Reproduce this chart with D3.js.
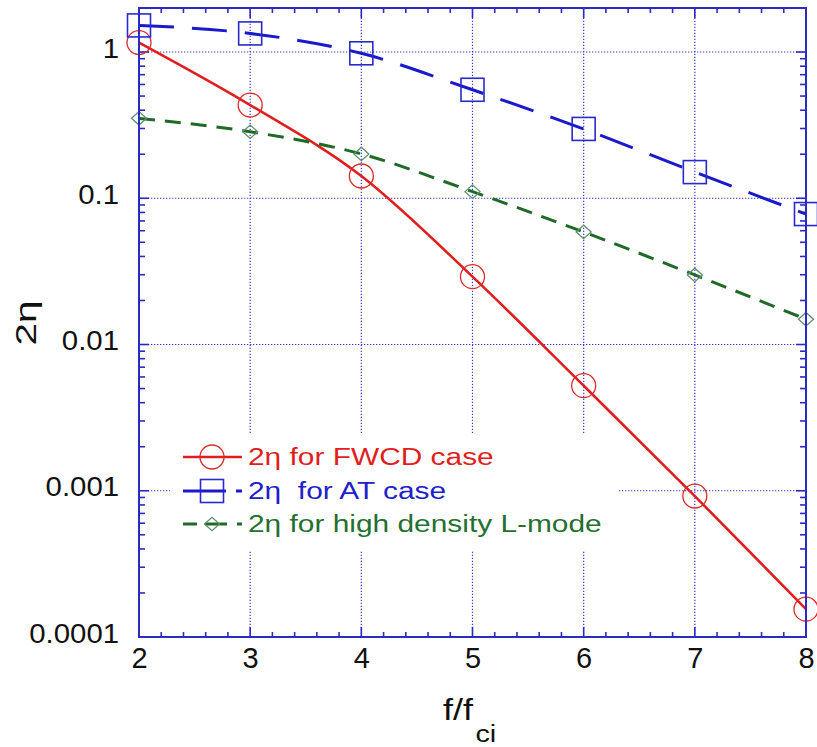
<!DOCTYPE html>
<html>
<head>
<meta charset="utf-8">
<script src="https://cdn.jsdelivr.net/npm/d3@7"></script>
<style>
  html, body { margin: 0; padding: 0; background: #fff; }
  svg { display: block; font-family: "Liberation Sans", Arial, Helvetica, sans-serif; }
  text { white-space: pre; }
</style>
</head>
<body>
<svg id="chart" width="817" height="747"></svg>
<script>
// Harmonic number f/f_ci on the x axis
const harmonics = [2, 3, 4, 5, 6, 7, 8];
// Two-pass absorption 2η for each scenario
const etaFWCD  = [1.16, 0.434, 0.142, 0.0291, 0.00523, 0.00092, 0.000155];
const etaAT    = [1.52, 1.34, 0.98, 0.552, 0.298, 0.151, 0.078];
const etaLmode = [0.352, 0.285, 0.201, 0.111, 0.0588, 0.0299, 0.0149];

const xTickValues = [2, 3, 4, 5, 6, 7, 8];
const yTickValues = [0.0001, 0.001, 0.01, 0.1, 1];
const yTickLabels = ["0.0001", "0.001", "0.01", "0.1", "1"];
const legendLabels = ["2η for FWCD case", "2η  for AT case", "2η for high density L-mode"];

const W = 817, H = 747;
const margin = { top: 8, right: 11, bottom: 110, left: 139 };
const x0 = margin.left, x1 = W - margin.right;
const y0 = margin.top, y1 = H - margin.bottom;

const axisColor = "#2b2bc4";
const gridColor = "#3838d8";

const svg = d3.select("#chart");

const x = d3.scaleLinear().domain([2, 8]).range([x0, x1]);
const y = d3.scaleLog().domain([0.0001, 2]).range([y1, y0]);

// Dotted grid at the major ticks
const grid = svg.append("g").attr("stroke", gridColor).attr("stroke-width", 1.2)
  .attr("stroke-dasharray", "1.3,1.7").attr("fill", "none");
xTickValues.slice(1, -1).forEach(v => {
  grid.append("line").attr("x1", x(v)).attr("x2", x(v)).attr("y1", y1).attr("y2", y0);
});
yTickValues.slice(1).forEach(v => {
  grid.append("line").attr("x1", x0).attr("x2", x1).attr("y1", y(v)).attr("y2", y(v));
});

// Minor and major ticks pointing inward on all four sides
const ticks = svg.append("g").attr("stroke", axisColor).attr("stroke-width", 1.6);
const xMinor = d3.range(2, 8.0001, 0.2).map(v => +v.toFixed(1));
xMinor.forEach(v => {
  const major = Math.abs(v - Math.round(v)) < 1e-6;
  const len = major ? 10 : 5;
  ticks.append("line").attr("x1", x(v)).attr("x2", x(v)).attr("y1", y1).attr("y2", y1 - len);
  ticks.append("line").attr("x1", x(v)).attr("x2", x(v)).attr("y1", y0).attr("y2", y0 + len);
});
y.ticks().forEach(v => {
  if (v < 0.0001 || v > 2) return;
  const major = yTickValues.some(t => Math.abs(t - v) / t < 1e-6);
  const len = major ? 10 : 6;
  ticks.append("line").attr("x1", x0).attr("x2", x0 + len).attr("y1", y(v)).attr("y2", y(v));
  ticks.append("line").attr("x1", x1).attr("x2", x1 - len).attr("y1", y(v)).attr("y2", y(v));
});

// Axis labels via d3 axes (lines hidden, text kept)
const xAxis = svg.append("g").attr("transform", `translate(0,${y1})`)
  .call(d3.axisBottom(x).tickValues(xTickValues).tickFormat(d3.format("d")).tickSize(0).tickPadding(0));
xAxis.select(".domain").remove();
xAxis.selectAll("text").attr("y", 31).attr("dy", null)
  .attr("font-size", 29).attr("fill", "#111").attr("font-family", "Liberation Sans, Arial, sans-serif");

const yAxis = svg.append("g").attr("transform", `translate(${x0},0)`)
  .call(d3.axisLeft(y).tickValues(yTickValues).tickFormat((d, i) => yTickLabels[i]).tickSize(0).tickPadding(0));
yAxis.select(".domain").remove();
yAxis.selectAll("text").attr("x", -19).attr("dy", null).attr("y", 5)
  .attr("font-size", 28).attr("fill", "#111").attr("font-family", "Liberation Sans, Arial, sans-serif")
  .attr("transform", "scale(1.05,1)");

// Series
const series = [
  { vals: etaFWCD,  line: "#e01e1e", width: 2.6, dash: null,    marker: "circle",  mstroke: "#dd2a2a" },
  { vals: etaAT,    line: "#1a1acc", width: 3.0, dash: "35,18", marker: "square",  mstroke: "#2a2acc" },
  { vals: etaLmode, line: "#1f6a26", width: 3.0, dash: "16,10", marker: "diamond", mstroke: "#5f8f6f" }
];

const lineGen = d3.line().x(d => x(d[0])).y(d => y(d[1])).curve(d3.curveMonotoneX);

function drawMarker(g, type, cx, cy, color) {
  if (type === "circle") {
    g.append("circle").attr("cx", cx).attr("cy", cy).attr("r", 12)
      .attr("fill", "none").attr("stroke", color).attr("stroke-width", 1.3);
  } else if (type === "square") {
    g.append("rect").attr("x", cx - 11.5).attr("y", cy - 11.5).attr("width", 23).attr("height", 23)
      .attr("fill", "none").attr("stroke", color).attr("stroke-width", 1.6);
  } else {
    const r = 7.5;
    g.append("path").attr("d", `M${cx - r},${cy}L${cx},${cy - r * 0.9}L${cx + r},${cy}L${cx},${cy + r * 0.9}Z`)
      .attr("fill", "none").attr("stroke", color).attr("stroke-width", 1.3);
  }
}

const plot = svg.append("g");
series.forEach(s => {
  const pts = harmonics.map((h, i) => [h, s.vals[i]]);
  plot.append("path").datum(pts).attr("d", lineGen)
    .attr("fill", "none").attr("stroke", s.line).attr("stroke-width", s.width)
    .attr("stroke-dasharray", s.dash);
  pts.forEach(p => drawMarker(plot, s.marker, x(p[0]), y(p[1]), s.mstroke));
});

// Frame
svg.append("rect").attr("x", x0).attr("y", y0).attr("width", x1 - x0).attr("height", y1 - y0)
  .attr("fill", "none").attr("stroke", axisColor).attr("stroke-width", 2);

// Legend
const legend = svg.append("g");
legend.append("rect").attr("x", 170).attr("y", 434).attr("width", 448).attr("height", 117).attr("fill", "#fff");
const rowY = [457, 491, 524];
const legendDash = [null, "43,10,6", "14,8,22,10,6"];
const textColors = ["#e01e1e", "#2020cc", "#247030"];
series.forEach((s, i) => {
  const cy = rowY[i];
  legend.append("line").attr("x1", 183).attr("x2", 242).attr("y1", cy).attr("y2", cy)
    .attr("stroke", s.line).attr("stroke-width", s.width).attr("stroke-dasharray", legendDash[i]);
  drawMarker(legend, s.marker, 212, cy, s.mstroke);
  legend.append("text").attr("transform", `translate(248,${cy + 8}) scale(1.22,1)`)
    .attr("font-size", 24.5).attr("fill", textColors[i]).text(legendLabels[i]);
});

// Axis titles
svg.append("text").attr("transform", "translate(36,323) rotate(-90) scale(1.35,1)")
  .attr("text-anchor", "middle").attr("font-size", 30).attr("fill", "#111").text("2η");
const xt = svg.append("text").attr("transform", "translate(443,720) scale(1.2,1)")
  .attr("font-size", 30).attr("fill", "#111");
xt.append("tspan").text("f/f");
xt.append("tspan").attr("dy", 22).attr("dx", 2).attr("font-size", 24).text("ci");
</script>
</body>
</html>
